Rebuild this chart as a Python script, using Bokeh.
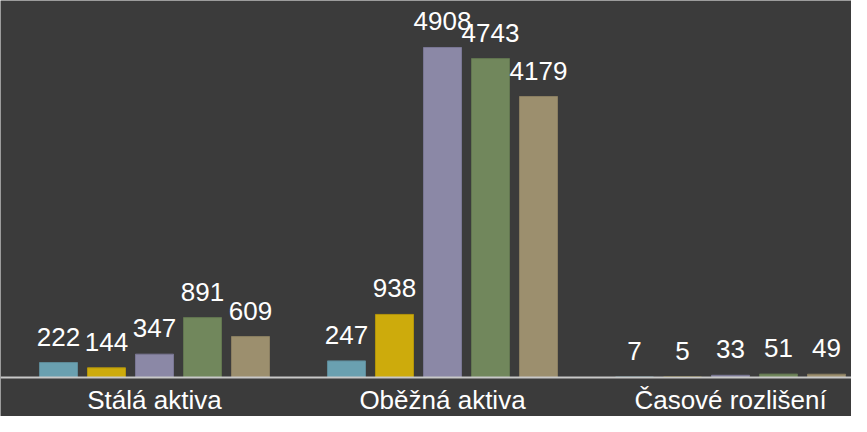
from bokeh.plotting import figure
from bokeh.models import ColumnDataSource, LabelSet, Range1d, Span
from bokeh.core.properties import value
from bokeh.embed import file_html
from bokeh.resources import INLINE

categories = ["Stálá aktiva", "Oběžná aktiva", "Časové rozlišení"]
series_names = ["Řada 1", "Řada 2", "Řada 3", "Řada 4", "Řada 5"]
series_1 = [222, 247, 7]
series_2 = [144, 938, 5]
series_3 = [347, 4908, 33]
series_4 = [891, 4743, 51]
series_5 = [609, 4179, 49]
series_values = [series_1, series_2, series_3, series_4, series_5]
colors = ["#6aa0b0", "#cdab0c", "#8b88a6", "#71875c", "#9c8f6e"]
outlines = ["#5e8b99", "#b3950b", "#7a7794", "#627650", "#8a7e61"]

BG = "#3b3b3b"
FONT = value("Liberation Sans")

p = figure(width=851, height=416, output_backend="svg", toolbar_location=None,
           x_range=Range1d(-0.0347, 2.9201), y_range=Range1d(-580.0, 5607.0),
           background_fill_color=BG, border_fill_color=BG,
           min_border_left=0, min_border_right=0, min_border_top=0, min_border_bottom=0)
p.outline_line_color = None
p.grid.visible = False
p.xaxis.visible = False
p.yaxis.visible = False

offsets = [-1/3, -1/6, 0, 1/6, 1/3]
for i, vals in enumerate(series_values):
    xs = [k + 0.5 + offsets[i] for k in range(len(categories))]
    src = ColumnDataSource(dict(x=xs, top=vals, label=[str(v) for v in vals]))
    p.vbar(x="x", top="top", bottom=0, width=0.132, source=src,
           fill_color=colors[i], line_color=outlines[i], line_width=1)
    p.add_layout(LabelSet(x="x", y="top", text="label", source=src,
                          text_align="center", text_baseline="alphabetic",
                          y_offset=17, text_color="#ffffff",
                          text_font=FONT, text_font_size="26px"))

# category axis line and labels
p.add_layout(Span(location=0, dimension="width", line_color="#c8c8c8", line_width=2))
cat_src = ColumnDataSource(dict(x=[k + 0.5 for k in range(len(categories))],
                                y=[0] * len(categories), label=categories))
p.add_layout(LabelSet(x="x", y="y", text="label", source=cat_src,
                      text_align="center", text_baseline="alphabetic",
                      y_offset=-31, text_color="#ffffff",
                      text_font=FONT, text_font_size="26px"))

open("out.html", "w").write(file_html(p, INLINE))
